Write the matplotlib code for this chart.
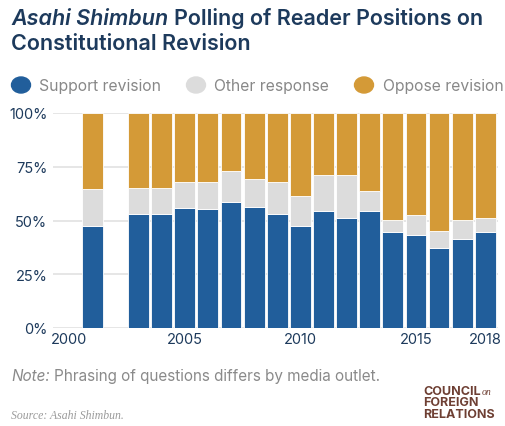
import matplotlib.pyplot as plt
import numpy as np

# Asahi Shimbun polling, share of readers (%)
years = [2001, 2003, 2004, 2005, 2006, 2007, 2008, 2009, 2010,
         2011, 2012, 2013, 2014, 2015, 2016, 2017, 2018]
support = [47.6, 53.0, 53.0, 56.0, 55.3, 58.6, 56.1, 53.0, 47.6,
           54.4, 51.2, 54.4, 44.7, 43.4, 37.1, 41.4, 44.7]
other = [16.9, 12.1, 12.1, 11.8, 12.8, 14.4, 13.4, 14.9, 14.0,
         16.9, 20.1, 9.2, 5.4, 9.0, 8.0, 8.7, 6.5]
oppose = [100 - s - o for s, o in zip(support, other)]

labels = ["Support revision", "Other response", "Oppose revision"]
colors = ["#215e9b", "#dcdcdc", "#d49a37"]
xticks = [2000, 2005, 2010, 2015, 2018]
yticks = [0, 25, 50, 75, 100]

navy = "#1d3a5c"
font = "Inter"
plt.rcParams['font.family'] = [font, 'DejaVu Sans']

fig = plt.figure(figsize=(5.06, 4.27), dpi=100)
ax = fig.add_axes([53/506, 1 - 329/427, 445/506, 215/427])

bottoms = np.zeros(len(years))
for vals, c in zip([support, other, oppose], colors):
    ax.bar(years, vals, bottom=bottoms, width=0.9, color=c,
           edgecolor="white", linewidth=0.6, zorder=3)
    bottoms += np.array(vals)

ax.set_xlim(1999.3, 2018.55)
ax.set_ylim(0, 100)
ax.set_yticks(yticks)
ax.set_yticklabels([f"{t}%" for t in yticks])
ax.set_xticks(xticks)
ax.set_xticklabels([str(t) for t in xticks])
ax.tick_params(length=0, labelsize=10.5, colors=navy)
ax.tick_params(axis="y", pad=4)
ax.tick_params(axis="x", pad=3)
ax.grid(axis="y", color="#e2e2e2", linewidth=1.2, zorder=0)
for s in ax.spines.values():
    s.set_visible(False)

# title: italic paper name followed by regular text
renderer = fig.canvas.get_renderer()
t1 = fig.text(11/506, 1 - 25/427, "Asahi Shimbun", fontsize=15.5, style="italic",
              color=navy, ha="left", va="baseline", fontweight="semibold")
x_end = t1.get_window_extent(renderer).x1
fig.text((x_end + 6)/506, 1 - 25/427, "Polling of Reader Positions on",
         fontsize=15.5, color=navy, ha="left", va="baseline",
         fontweight="semibold")
fig.text(11/506, 1 - 50/427, "Constitutional Revision", fontsize=15.5,
         color=navy, ha="left", va="baseline", fontweight="semibold")

# legend
for cx, tx, lab, c in zip([21, 196, 364], [39, 214, 383], labels, colors):
    fig.patches.append(plt.Circle((cx/506, 1 - 86/427), 9.5/506,
                                  transform=fig.transFigure, color=c,
                                  figure=fig))
    fig.text(tx/506, 1 - 86/427, lab, fontsize=11.3, color="#888888",
             ha="left", va="center")

# footer
t2 = fig.text(11/506, 1 - 377/427, "Note:", fontsize=11, style="italic",
              color="#8a8a8a", ha="left", va="center")
x_end = t2.get_window_extent(renderer).x1
fig.text((x_end + 4)/506, 1 - 377/427,
         "Phrasing of questions differs by media outlet.",
         fontsize=11, color="#8a8a8a", ha="left", va="center")
fig.text(11/506, 1 - 416/427, "Source: Asahi Shimbun.", fontsize=8.5,
         style="italic", family="Liberation Serif", color="#9a9a9a",
         ha="left", va="center")

brown = "#6e3f33"
t3 = fig.text(423/506, 1 - 392/427, "COUNCIL", fontsize=9, fontweight="bold",
              color=brown, ha="left", va="center")
x_end = t3.get_window_extent(renderer).x1
fig.text((x_end + 1)/506, 1 - 393/427, "on", fontsize=7, style="italic",
         family="Liberation Serif", color=brown, ha="left", va="center")
fig.text(423/506, 1 - 403.5/427, "FOREIGN", fontsize=9, fontweight="bold",
         color=brown, ha="left", va="center")
fig.text(423/506, 1 - 415/427, "RELATIONS", fontsize=9, fontweight="bold",
         color=brown, ha="left", va="center")

fig.savefig("out.png", dpi=100)
